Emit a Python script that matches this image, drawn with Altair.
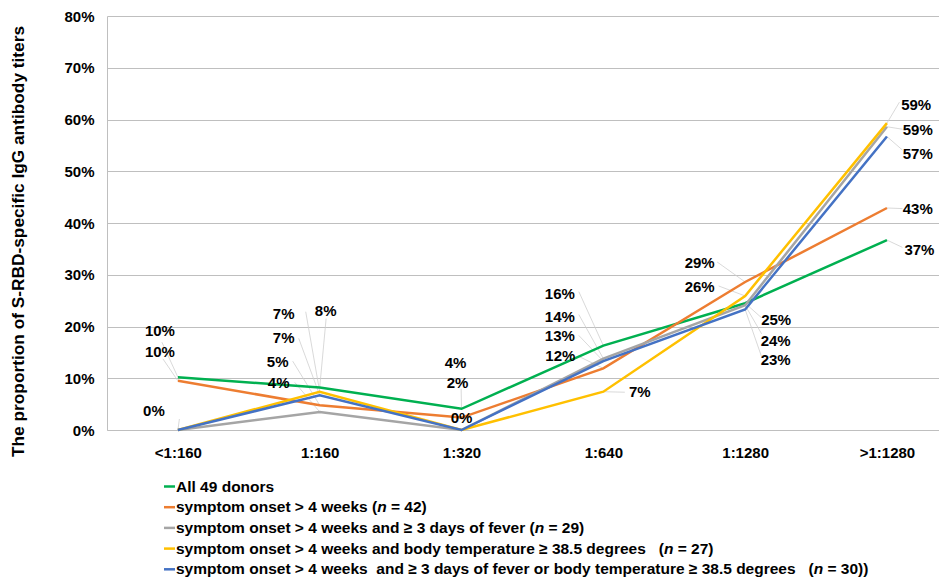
import re
import altair as alt
import pandas as pd

# ---------------- data ----------------
categories = ["<1:160", "1:160", "1:320", "1:640", "1:1280", ">1:1280"]
all_donors = [10.2, 8.2, 4.1, 16.3, 24.5, 36.7]
onset_4w = [9.5, 4.8, 2.4, 11.9, 28.6, 42.9]
fever_3d = [0.0, 3.5, 0.0, 13.8, 24.1, 58.6]
temp_385 = [0.0, 7.4, 0.0, 7.4, 25.9, 59.3]
fever_or_temp = [0.0, 6.7, 0.0, 13.3, 23.3, 56.7]
series_values = [all_donors, onset_4w, fever_3d, temp_385, fever_or_temp]
colors = ["#00B050", "#ED7D31", "#A5A5A5", "#FFC000", "#4472C4"]
y_ticks = [0, 10, 20, 30, 40, 50, 60, 70, 80]

legend_rows = [
    [("All 49 donors", False)],
    [("symptom onset > 4 weeks (", False), ("n", True), (" = 42)", False)],
    [("symptom onset > 4 weeks and ≥ 3 days of fever (", False), ("n", True), (" = 29)", False)],
    [("symptom onset > 4 weeks and body temperature ≥ 38.5 degrees   (", False), ("n", True), (" = 27)", False)],
    [("symptom onset > 4 weeks  and ≥ 3 days of fever or body temperature ≥ 38.5 degrees   (", False),
     ("n", True), (" = 30))", False)],
]

# label placement: (series, category, text dx, text dy, leader dx, leader dy) in pixels from the point
label_place = [
    (0, 0, -18, -46, -16, -35), (1, 0, -18, -29, -15, -22), (4, 0, -24, -19, 1.5, -11),
    (0, 1, 6, -77, 6.4, -69), (3, 1, -36, -78, -14, -80), (4, 1, -36, -57, -21, -57),
    (1, 1, -42, -43, -27, -44), (2, 1, -41, -29, -25, -29.5),
    (0, 2, -6, -46, -0.4, -20), (1, 2, -4, -35, None, None), (4, 2, 0, -12, None, None),
    (0, 3, -43.5, -52, -24.5, -54), (2, 3, -43.5, -41.5, -24.5, -44), (4, 3, -43.5, -25, -24.5, -25.7),
    (1, 3, -43, -12, -24.5, -12), (3, 3, 36.5, 0.3, 21.5, 0.5),
    (1, 4, -45.5, -18.5, -28, -20), (3, 4, -45.5, -8.5, -26.5, -10), (0, 4, 31, 16.7, 16.2, 14.4),
    (2, 4, 30.5, 35.6, 16.5, 28.6), (4, 4, 30.5, 50.8, 16.5, 47.5),
    (3, 5, 29.2, -18.2, 12.5, -21), (2, 5, 30.8, 3.2, 15.5, 2.5), (4, 5, 30.8, 17.8, 15.5, 13.5),
    (1, 5, 30.8, 1.3, 15.5, 0.6), (0, 5, 32.5, 9.6, 15.5, 7.3),
]

FONT = "Liberation Sans"
FS = 15
LEG_FS = 15.5
GRID = "#BFBFBF"

rows = []
for s, vals in enumerate(series_values):
    for i, v in enumerate(vals):
        rows.append({"s": s, "i": i, "cat": categories[i], "v": v})
df = pd.DataFrame(rows)

x_scale = alt.Scale(domain=[-0.5, 5.367], nice=False, zero=False)
y_scale = alt.Scale(domain=[0, 80], nice=False, zero=True)

cat_js = "[" + ",".join("'" + c + "'" for c in categories) + "][datum.value]"
x_axis = alt.Axis(values=list(range(len(categories))), labelExpr=cat_js, ticks=False, grid=False,
                  domainColor=GRID, domainWidth=1, labelFont=FONT, labelFontSize=FS,
                  labelFontWeight="bold", labelColor="#000000", labelPadding=15, title=None)
y_axis = alt.Axis(values=y_ticks, labelExpr="datum.value + '%'", ticks=False, grid=True,
                  gridColor=GRID, gridWidth=1, domainColor=GRID, domainWidth=1,
                  labelFont=FONT, labelFontSize=FS, labelFontWeight="bold", labelColor="#000000",
                  labelPadding=13, title="The proportion of S-RBD-specific IgG antibody titers",
                  titleX=-89, titleY=225, titleAngle=270, titleAlign="center", titleBaseline="middle",
                  titleFont=FONT, titleFontSize=17.3, titleFontWeight="bold", titleColor="#000000")

X = alt.X("i:Q", scale=x_scale, axis=x_axis)
Y = alt.Y("v:Q", scale=y_scale, axis=y_axis)

layers = []
# leader lines
for s, i, dx, dy, lx, ly in label_place:
    if lx is None:
        continue
    layers.append(
        alt.Chart(df).transform_filter((alt.datum.s == s) & (alt.datum.i == i))
        .mark_rule(color="#CCCCCC", strokeWidth=0.75, x2Offset=lx, y2Offset=ly)
        .encode(x=X, y=Y, x2=alt.X2("i"), y2=alt.Y2("v"))
    )

# series lines
for s in range(len(series_values)):
    layers.append(
        alt.Chart(df).transform_filter(alt.datum.s == s)
        .mark_line(color=colors[s], strokeWidth=2.5)
        .encode(x=X, y=Y, order="i:Q")
    )

# data labels
for s, i, dx, dy, lx, ly in label_place:
    layers.append(
        alt.Chart(df).transform_filter((alt.datum.s == s) & (alt.datum.i == i))
        .transform_calculate(lbl="format(datum.v, '.0f') + '%'")
        .mark_text(dx=dx, dy=dy, align="center", baseline="middle", font=FONT, fontSize=FS,
                   fontWeight="bold", color="#000000")
        .encode(x=X, y=Y, text="lbl:N")
    )

# legend (manual, so the italic n can be shown)
W = {" ": 278, "(": 333, ")": 333, "=": 584, ">": 584, "<": 584, ".": 278, "≥": 549, "A": 722,
     "a": 556, "b": 611, "c": 556, "d": 611, "e": 556, "f": 333, "g": 611, "h": 611, "i": 278,
     "j": 278, "k": 556, "l": 278, "m": 889, "n": 611, "o": 611, "p": 611, "q": 611, "r": 389,
     "s": 556, "t": 333, "u": 611, "v": 556, "w": 778, "x": 556, "y": 556, "z": 500}


def tw(t):
    return sum(W.get(ch, 556) for ch in t) * LEG_FS / 1000.0


one = pd.DataFrame({"a": [0]})
LEG_X0 = 69
LEG_Y = [470.5, 491.2, 511.9, 532.6, 553.3]
for r, pieces in enumerate(legend_rows):
    yv = LEG_Y[r]
    layers.append(
        alt.Chart(one).mark_rule(color=colors[r], strokeWidth=2.5)
        .encode(x=alt.value(LEG_X0 - 12), x2=alt.value(LEG_X0 - 1), y=alt.value(yv))
    )
    cur = LEG_X0
    for text, ital in pieces:
        for chunk in re.split(r"( {2,})", text):
            if chunk == "":
                continue
            if chunk.strip() == "":
                cur += tw(chunk)
                continue
            lead = len(chunk) - len(chunk.lstrip(" "))
            cur += tw(" " * lead)
            body = chunk.lstrip(" ")
            layers.append(
                alt.Chart(one).mark_text(align="left", baseline="middle", font=FONT, fontSize=LEG_FS,
                                         fontWeight="bold", fontStyle="italic" if ital else "normal",
                                         color="#000000")
                .encode(x=alt.value(cur), y=alt.value(yv), text=alt.value(body.rstrip(" ")))
            )
            cur += tw(body)

chart = (
    alt.layer(*layers)
    .properties(width=832, height=414, autosize=alt.AutoSizeParams(type="none"),
                padding={"left": 99, "top": 8, "right": 0, "bottom": 150})
    .configure_view(stroke=None)
)
chart.save("out.html", embed_options={"renderer": "svg", "actions": False})
